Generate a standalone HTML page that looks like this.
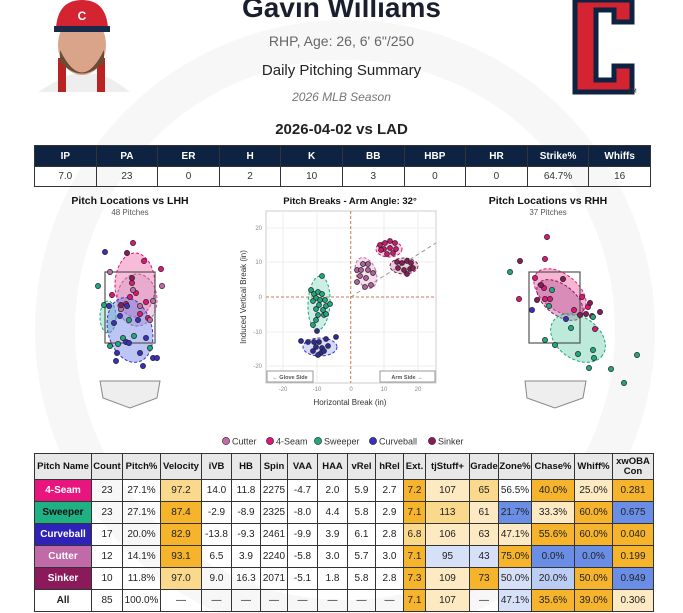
<!DOCTYPE html>
<html><head><meta charset="utf-8"><style>
body{margin:0;width:683px;height:613px;overflow:hidden;background:#fff;font-family:"Liberation Sans",sans-serif;position:relative}
.t{position:absolute;left:0;width:683px;text-align:center}
table{border-collapse:collapse;position:absolute;table-layout:fixed}
td,th{border:1px solid #333;text-align:center;padding:0;font-size:10px;overflow:hidden;white-space:nowrap}
#st th{background:#0e2341;color:#fff;height:20px;font-weight:bold;font-size:10px}
#st td{height:19px;color:#333}
#pt th{background:#e8e8e8;height:25px;font-size:9.5px;line-height:10px;color:#111}
#pt td{height:21px;font-size:10px;color:#222}
.o{background:#f6b42c}.lo{background:#fbd98c}.po{background:#fde9c2}.b{background:#6a8ee6}.lb{background:#d6e0f8}.vb{background:#bccdf5}
.n{color:#fff !important;font-weight:bold}
</style></head><body>
<svg width="683" height="613" style="position:absolute;left:0;top:0">
<circle cx="345" cy="330" r="290" fill="none" stroke="#f7f7f7" stroke-width="40"/>
<!-- photo -->
<rect x="33" y="0" width="100" height="92" fill="#fff"/>
<path d="M38 92 Q60 78 72 74 L100 74 Q115 80 130 92Z" fill="#eee"/>
<rect x="58" y="58" width="8" height="34" fill="#b22"/><rect x="97" y="58" width="8" height="34" fill="#b22"/>
<ellipse cx="82" cy="45" rx="24" ry="30" fill="#d9a48a"/>
<path d="M60 50 Q82 95 104 50 L104 62 Q82 85 60 62Z" fill="#6b4a36"/>
<path d="M56 28 Q58 0 82 0 Q106 0 108 28 Z" fill="#d42431"/><rect x="54" y="26" width="56" height="6" fill="#1a2a4a"/>
<text x="82" y="20" font-size="12" font-weight="bold" fill="#fff" text-anchor="middle">C</text>
<!-- logo -->
<path d="M575 0 L632 0 L632 22 L614 22 L614 10 L596 10 L596 80 L614 80 L614 66 L632 66 L632 92 L575 92 Z" fill="#d42431" stroke="#0e2341" stroke-width="5"/>
<text x="628" y="93" font-size="6" fill="#333">TM</text>
<!-- LHH -->
<text x="130" y="204" font-size="10.5" font-weight="bold" text-anchor="middle" fill="#111">Pitch Locations vs LHH</text>
<text x="130" y="215" font-size="8" text-anchor="middle" fill="#555">48 Pitches</text>
<g stroke-dasharray="3,2" stroke-width="1">
<ellipse cx="135" cy="285" rx="20" ry="32" fill="#f06aa8" fill-opacity=".45" stroke="#e0157a"/>
<ellipse cx="137" cy="300" rx="20" ry="26" fill="#d090c0" fill-opacity=".4" stroke="#b0609a"/>
<ellipse cx="108" cy="317" rx="8" ry="16" fill="#6ed1b0" fill-opacity=".4" stroke="#1fa77f"/>
<ellipse cx="130" cy="330" rx="22" ry="33" fill="#6a7ee6" fill-opacity=".45" stroke="#3a2fbf" transform="rotate(-15 130 330)"/>
</g>
<rect x="105" y="272" width="50" height="71" fill="none" stroke="#555" stroke-width="1.2"/>
<path d="M100 381 L160 381 L157 398 L130 408 L103 398Z" fill="#eee" stroke="#888"/>
<g stroke="#222" stroke-width=".7">
<g fill="#e0157a"><circle cx="133" cy="243" r="2.6"/><circle cx="144" cy="261" r="2.6"/><circle cx="161" cy="269" r="2.6"/><circle cx="132" cy="283" r="2.6"/><circle cx="130" cy="297" r="2.6"/><circle cx="136" cy="293" r="2.6"/><circle cx="112" cy="295" r="2.6"/><circle cx="146" cy="302" r="2.6"/><circle cx="140" cy="314" r="2.6"/><circle cx="148" cy="318" r="2.6"/><circle cx="126" cy="304" r="2.6"/></g>
<g fill="#c06aa8"><circle cx="110" cy="272" r="2.6"/><circle cx="162" cy="286" r="2.6"/><circle cx="133" cy="290" r="2.6"/><circle cx="140" cy="306" r="2.6"/><circle cx="153" cy="301" r="2.6"/><circle cx="150" cy="320" r="2.6"/><circle cx="121" cy="309" r="2.6"/></g>
<g fill="#8b1a5a"><circle cx="127" cy="253" r="2.6"/><circle cx="132" cy="278" r="2.6"/><circle cx="121" cy="305" r="2.6"/></g>
<g fill="#1fa77f"><circle cx="98" cy="286" r="2.6"/><circle cx="104" cy="305" r="2.6"/><circle cx="129" cy="320" r="2.6"/><circle cx="123" cy="338" r="2.6"/><circle cx="134" cy="336" r="2.6"/><circle cx="110" cy="346" r="2.6"/><circle cx="118" cy="344" r="2.6"/><circle cx="150" cy="348" r="2.6"/></g>
<g fill="#3a2fbf"><circle cx="105" cy="252" r="2.6"/><circle cx="109" cy="306" r="2.6"/><circle cx="127" cy="306" r="2.6"/><circle cx="120" cy="316" r="2.6"/><circle cx="114" cy="323" r="2.6"/><circle cx="138" cy="320" r="2.6"/><circle cx="126" cy="342" r="2.6"/><circle cx="129" cy="343" r="2.6"/><circle cx="146" cy="338" r="2.6"/><circle cx="117" cy="353" r="2.6"/><circle cx="116" cy="361" r="2.6"/><circle cx="140" cy="353" r="2.6"/><circle cx="153" cy="358" r="2.6"/><circle cx="157" cy="358" r="2.6"/><circle cx="143" cy="366" r="2.6"/></g>
</g>
<!-- Breaks -->
<text x="350" y="204" font-size="9.5" font-weight="bold" text-anchor="middle" fill="#111">Pitch Breaks - Arm Angle: 32°</text>
<rect x="266" y="211" width="170" height="172" fill="#fff" stroke="#ccc"/>
<g stroke="#eee"><line x1="283" y1="211" x2="283" y2="383"/><line x1="317" y1="211" x2="317" y2="383"/><line x1="384" y1="211" x2="384" y2="383"/><line x1="418" y1="211" x2="418" y2="383"/><line x1="266" y1="228" x2="436" y2="228"/><line x1="266" y1="262" x2="436" y2="262"/><line x1="266" y1="332" x2="436" y2="332"/><line x1="266" y1="366" x2="436" y2="366"/></g>
<g stroke="#c87850" stroke-dasharray="3,2"><line x1="350.7" y1="211" x2="350.7" y2="383"/><line x1="266" y1="297" x2="436" y2="297"/></g>
<line x1="350.7" y1="297" x2="436" y2="243" stroke="#999" stroke-dasharray="4,3"/>
<g font-size="6" fill="#888" text-anchor="end"><text x="262" y="230">20</text><text x="262" y="264">10</text><text x="262" y="299">0</text><text x="262" y="334">-10</text><text x="262" y="368">-20</text></g>
<g font-size="6" fill="#888" text-anchor="middle"><text x="283" y="391">-20</text><text x="317" y="391">-10</text><text x="351" y="391">0</text><text x="384" y="391">10</text><text x="418" y="391">20</text></g>
<text x="350" y="405" font-size="8" text-anchor="middle" fill="#333">Horizontal Break (in)</text>
<text x="0" y="0" font-size="8" text-anchor="middle" fill="#333" transform="translate(246 297) rotate(-90)">Induced Vertical Break (in)</text>
<rect x="267" y="371" width="46" height="11" fill="#fff" stroke="#999"/><text x="290" y="379" font-size="5.5" text-anchor="middle" fill="#555" font-weight="bold">← Glove Side</text>
<rect x="380" y="371" width="55" height="11" fill="#fff" stroke="#999"/><text x="407" y="379" font-size="5.5" text-anchor="middle" fill="#555" font-weight="bold">Arm Side →</text>
<g stroke-dasharray="3,2">
<ellipse cx="319" cy="303" rx="11" ry="27" fill="#6ed1b0" fill-opacity=".35" stroke="#1fa77f" transform="rotate(3 319 303)"/>
<ellipse cx="320" cy="347" rx="17" ry="9" fill="#8a96e8" fill-opacity=".35" stroke="#3a2fbf"/>
<ellipse cx="366" cy="273" rx="10" ry="16" fill="#e0a0cc" fill-opacity=".35" stroke="#c06aa8" transform="rotate(-20 366 273)"/>
<ellipse cx="389" cy="249" rx="13" ry="8" fill="#f06aa8" fill-opacity=".35" stroke="#e0157a"/>
<ellipse cx="404" cy="266" rx="14" ry="8" fill="#c07090" fill-opacity=".35" stroke="#8b1a5a"/>
</g>
<g stroke="#222" stroke-width=".7">
<g fill="#1fa77f"><circle cx="322" cy="276" r="2.5"/><circle cx="311" cy="290" r="2.5"/><circle cx="314" cy="294" r="2.5"/><circle cx="318" cy="292" r="2.5"/><circle cx="322" cy="294" r="2.5"/><circle cx="316" cy="298" r="2.5"/><circle cx="320" cy="300" r="2.5"/><circle cx="325" cy="300" r="2.5"/><circle cx="313" cy="301" r="2.5"/><circle cx="319" cy="305" r="2.5"/><circle cx="326" cy="306" r="2.5"/><circle cx="316" cy="309" r="2.5"/><circle cx="323" cy="310" r="2.5"/><circle cx="330" cy="304" r="2.5"/><circle cx="318" cy="315" r="2.5"/><circle cx="324" cy="315" r="2.5"/><circle cx="316" cy="320" r="2.5"/><circle cx="313" cy="325" r="2.5"/><circle cx="326" cy="314" r="2.5"/></g>
<g fill="#2f2a9a"><circle cx="317" cy="331" r="2.5"/><circle cx="301" cy="341" r="2.5"/><circle cx="308" cy="342" r="2.5"/><circle cx="314" cy="342" r="2.5"/><circle cx="319" cy="342" r="2.5"/><circle cx="326" cy="339" r="2.5"/><circle cx="336" cy="337" r="2.5"/><circle cx="316" cy="347" r="2.5"/><circle cx="322" cy="348" r="2.5"/><circle cx="328" cy="346" r="2.5"/><circle cx="313" cy="351" r="2.5"/><circle cx="321" cy="353" r="2.5"/><circle cx="324" cy="351" r="2.5"/><circle cx="318" cy="355" r="2.5"/></g>
<g fill="#b0609a"><circle cx="357" cy="270" r="2.5"/><circle cx="363" cy="264" r="2.5"/><circle cx="368" cy="270" r="2.5"/><circle cx="360" cy="276" r="2.5"/><circle cx="366" cy="278" r="2.5"/><circle cx="373" cy="273" r="2.5"/><circle cx="357" cy="282" r="2.5"/><circle cx="365" cy="287" r="2.5"/><circle cx="371" cy="285" r="2.5"/><circle cx="368" cy="264" r="2.5"/><circle cx="361" cy="270" r="2.5"/></g>
<g fill="#d01570"><circle cx="380" cy="245" r="2.5"/><circle cx="385" cy="243" r="2.5"/><circle cx="390" cy="241" r="2.5"/><circle cx="395" cy="243" r="2.5"/><circle cx="384" cy="249" r="2.5"/><circle cx="390" cy="248" r="2.5"/><circle cx="396" cy="249" r="2.5"/><circle cx="387" cy="254" r="2.5"/><circle cx="393" cy="253" r="2.5"/><circle cx="381" cy="250" r="2.5"/></g>
<g fill="#8b1a5a"><circle cx="397" cy="262" r="2.5"/><circle cx="402" cy="263" r="2.5"/><circle cx="407" cy="261" r="2.5"/><circle cx="411" cy="263" r="2.5"/><circle cx="398" cy="268" r="2.5"/><circle cx="404" cy="270" r="2.5"/><circle cx="410" cy="269" r="2.5"/><circle cx="407" cy="274" r="2.5"/><circle cx="413" cy="268" r="2.5"/></g>
</g>
<!-- RHH -->
<text x="548" y="204" font-size="10.5" font-weight="bold" text-anchor="middle" fill="#111">Pitch Locations vs RHH</text>
<text x="548" y="215" font-size="8" text-anchor="middle" fill="#555">37 Pitches</text>
<g stroke-dasharray="3,2">
<ellipse cx="560" cy="292" rx="30" ry="18" fill="#f06aa8" fill-opacity=".5" stroke="#e0157a" transform="rotate(38 560 292)"/>
<ellipse cx="560" cy="300" rx="27" ry="15" fill="#b05090" fill-opacity=".4" stroke="#8b1a5a" transform="rotate(38 560 300)"/>
<ellipse cx="578" cy="338" rx="30" ry="21" fill="#6ed1b0" fill-opacity=".45" stroke="#1fa77f" transform="rotate(35 578 338)"/>
</g>
<rect x="529" y="272" width="51" height="71" fill="none" stroke="#555" stroke-width="1.2"/>
<path d="M525 381 L586 381 L583 398 L555 408 L527 398Z" fill="#eee" stroke="#888"/>
<g stroke="#222" stroke-width=".7">
<g fill="#e0157a"><circle cx="547" cy="237" r="2.6"/><circle cx="545" cy="259" r="2.6"/><circle cx="535" cy="278" r="2.6"/><circle cx="544" cy="288" r="2.6"/><circle cx="519" cy="299" r="2.6"/><circle cx="545" cy="299" r="2.6"/><circle cx="550" cy="299" r="2.6"/><circle cx="582" cy="297" r="2.6"/><circle cx="574" cy="310" r="2.6"/><circle cx="588" cy="307" r="2.6"/><circle cx="595" cy="329" r="2.6"/><circle cx="592" cy="316" r="2.6"/></g>
<g fill="#8b1a5a"><circle cx="520" cy="261" r="2.6"/><circle cx="563" cy="279" r="2.6"/><circle cx="541" cy="285" r="2.6"/><circle cx="537" cy="300" r="2.6"/><circle cx="590" cy="303" r="2.6"/><circle cx="580" cy="315" r="2.6"/><circle cx="586" cy="314" r="2.6"/><circle cx="600" cy="312" r="2.6"/></g>
<g fill="#1fa77f"><circle cx="510" cy="272" r="2.6"/><circle cx="552" cy="290" r="2.6"/><circle cx="549" cy="306" r="2.6"/><circle cx="593" cy="317" r="2.6"/><circle cx="571" cy="328" r="2.6"/><circle cx="545" cy="340" r="2.6"/><circle cx="555" cy="345" r="2.6"/><circle cx="578" cy="354" r="2.6"/><circle cx="593" cy="350" r="2.6"/><circle cx="594" cy="358" r="2.6"/><circle cx="589" cy="368" r="2.6"/><circle cx="611" cy="369" r="2.6"/><circle cx="637" cy="355" r="2.6"/><circle cx="624" cy="383" r="2.6"/></g>
<g fill="#3a2fbf"><circle cx="532" cy="310" r="2.6"/><circle cx="566" cy="319" r="2.6"/></g>
</g>
<!-- legend -->
<g font-size="9" fill="#333" stroke="#222" stroke-width=".6">
<circle cx="226" cy="441" r="3.6" fill="#c06aa8"/><text x="232" y="444.5" stroke="none">Cutter</text>
<circle cx="270" cy="441" r="3.6" fill="#e0157a"/><text x="276" y="444.5" stroke="none">4-Seam</text>
<circle cx="318" cy="441" r="3.6" fill="#1fa77f"/><text x="324" y="444.5" stroke="none">Sweeper</text>
<circle cx="373" cy="441" r="3.6" fill="#3a2fbf"/><text x="379" y="444.5" stroke="none">Curveball</text>
<circle cx="432" cy="441" r="3.6" fill="#8b1a5a"/><text x="438" y="444.5" stroke="none">Sinker</text>
</g>
</svg>
<div class="t" style="top:-8px;font-size:28px;font-weight:bold;color:#1a1f2e">Gavin Williams</div>
<div class="t" style="top:33px;font-size:14px;color:#666">RHP, Age: 26, 6' 6"/250</div>
<div class="t" style="top:62px;font-size:15px;color:#222">Daily Pitching Summary</div>
<div class="t" style="top:90px;font-size:12px;color:#777;font-style:italic">2026 MLB Season</div>
<div class="t" style="top:121px;font-size:15px;color:#222;font-weight:bold">2026-04-02 vs LAD</div>
<table id="st" style="left:34px;top:145px;width:617px">
<tr><th>IP</th><th>PA</th><th>ER</th><th>H</th><th>K</th><th>BB</th><th>HBP</th><th>HR</th><th>Strike%</th><th>Whiffs</th></tr>
<tr><td>7.0</td><td>23</td><td>0</td><td>2</td><td>10</td><td>3</td><td>0</td><td>0</td><td>64.7%</td><td>16</td></tr>
</table>
<table id="pt" style="left:34px;top:453px;width:619px">
<colgroup><col style="width:57px"><col style="width:31px"><col style="width:38px"><col style="width:41px"><col style="width:30px"><col style="width:29px"><col style="width:27px"><col style="width:30px"><col style="width:30px"><col style="width:28px"><col style="width:28px"><col style="width:22px"><col style="width:44px"><col style="width:29px"><col style="width:33px"><col style="width:43px"><col style="width:38px"><col style="width:41px"></colgroup>
<tr><th>Pitch Name</th><th>Count</th><th>Pitch%</th><th>Velocity</th><th>iVB</th><th>HB</th><th>Spin</th><th>VAA</th><th>HAA</th><th>vRel</th><th>hRel</th><th>Ext.</th><th>tjStuff+</th><th>Grade</th><th>Zone%</th><th>Chase%</th><th>Whiff%</th><th>xwOBA<br>Con</th></tr>
<tr><td class="n" style="background:#e8157f">4-Seam</td><td>23</td><td>27.1%</td><td class="lo">97.2</td><td>14.0</td><td>11.8</td><td>2275</td><td>-4.7</td><td>2.0</td><td>5.9</td><td>2.7</td><td class="o">7.2</td><td class="po">107</td><td class="lo">65</td><td>56.5%</td><td class="o">40.0%</td><td class="po">25.0%</td><td class="o">0.281</td></tr>
<tr><td style="background:#1fb083;font-weight:bold;color:#111">Sweeper</td><td>23</td><td>27.1%</td><td class="o">87.4</td><td>-2.9</td><td>-8.9</td><td>2325</td><td>-8.0</td><td>4.4</td><td>5.8</td><td>2.9</td><td class="o">7.1</td><td class="lo">113</td><td class="po">61</td><td class="b">21.7%</td><td class="po">33.3%</td><td class="o">60.0%</td><td class="b">0.675</td></tr>
<tr><td class="n" style="background:#2e22b8">Curveball</td><td>17</td><td>20.0%</td><td class="o">82.9</td><td>-13.8</td><td>-9.3</td><td>2461</td><td>-9.9</td><td>3.9</td><td>6.1</td><td>2.8</td><td class="lo">6.8</td><td class="po">106</td><td class="po">63</td><td class="po">47.1%</td><td class="o">55.6%</td><td class="o">60.0%</td><td class="o">0.040</td></tr>
<tr><td class="n" style="background:#c06aa8">Cutter</td><td>12</td><td>14.1%</td><td class="o">93.1</td><td>6.5</td><td>3.9</td><td>2240</td><td>-5.8</td><td>3.0</td><td>5.7</td><td>3.0</td><td class="o">7.1</td><td class="lb">95</td><td class="lb">43</td><td class="o">75.0%</td><td class="b">0.0%</td><td class="b">0.0%</td><td class="o">0.199</td></tr>
<tr><td class="n" style="background:#8b1a5a">Sinker</td><td>10</td><td>11.8%</td><td class="lo">97.0</td><td>9.0</td><td>16.3</td><td>2071</td><td>-5.1</td><td>1.8</td><td>5.8</td><td>2.8</td><td class="o">7.3</td><td class="po">109</td><td class="o">73</td><td class="lb">50.0%</td><td class="vb">20.0%</td><td class="o">50.0%</td><td class="b">0.949</td></tr>
<tr><td style="font-weight:bold">All</td><td>85</td><td>100.0%</td><td>—</td><td>—</td><td>—</td><td>—</td><td>—</td><td>—</td><td>—</td><td>—</td><td class="o">7.1</td><td class="po">107</td><td>—</td><td class="lb">47.1%</td><td class="o">35.6%</td><td class="o">39.0%</td><td class="po">0.306</td></tr>
</table>
</body></html>
